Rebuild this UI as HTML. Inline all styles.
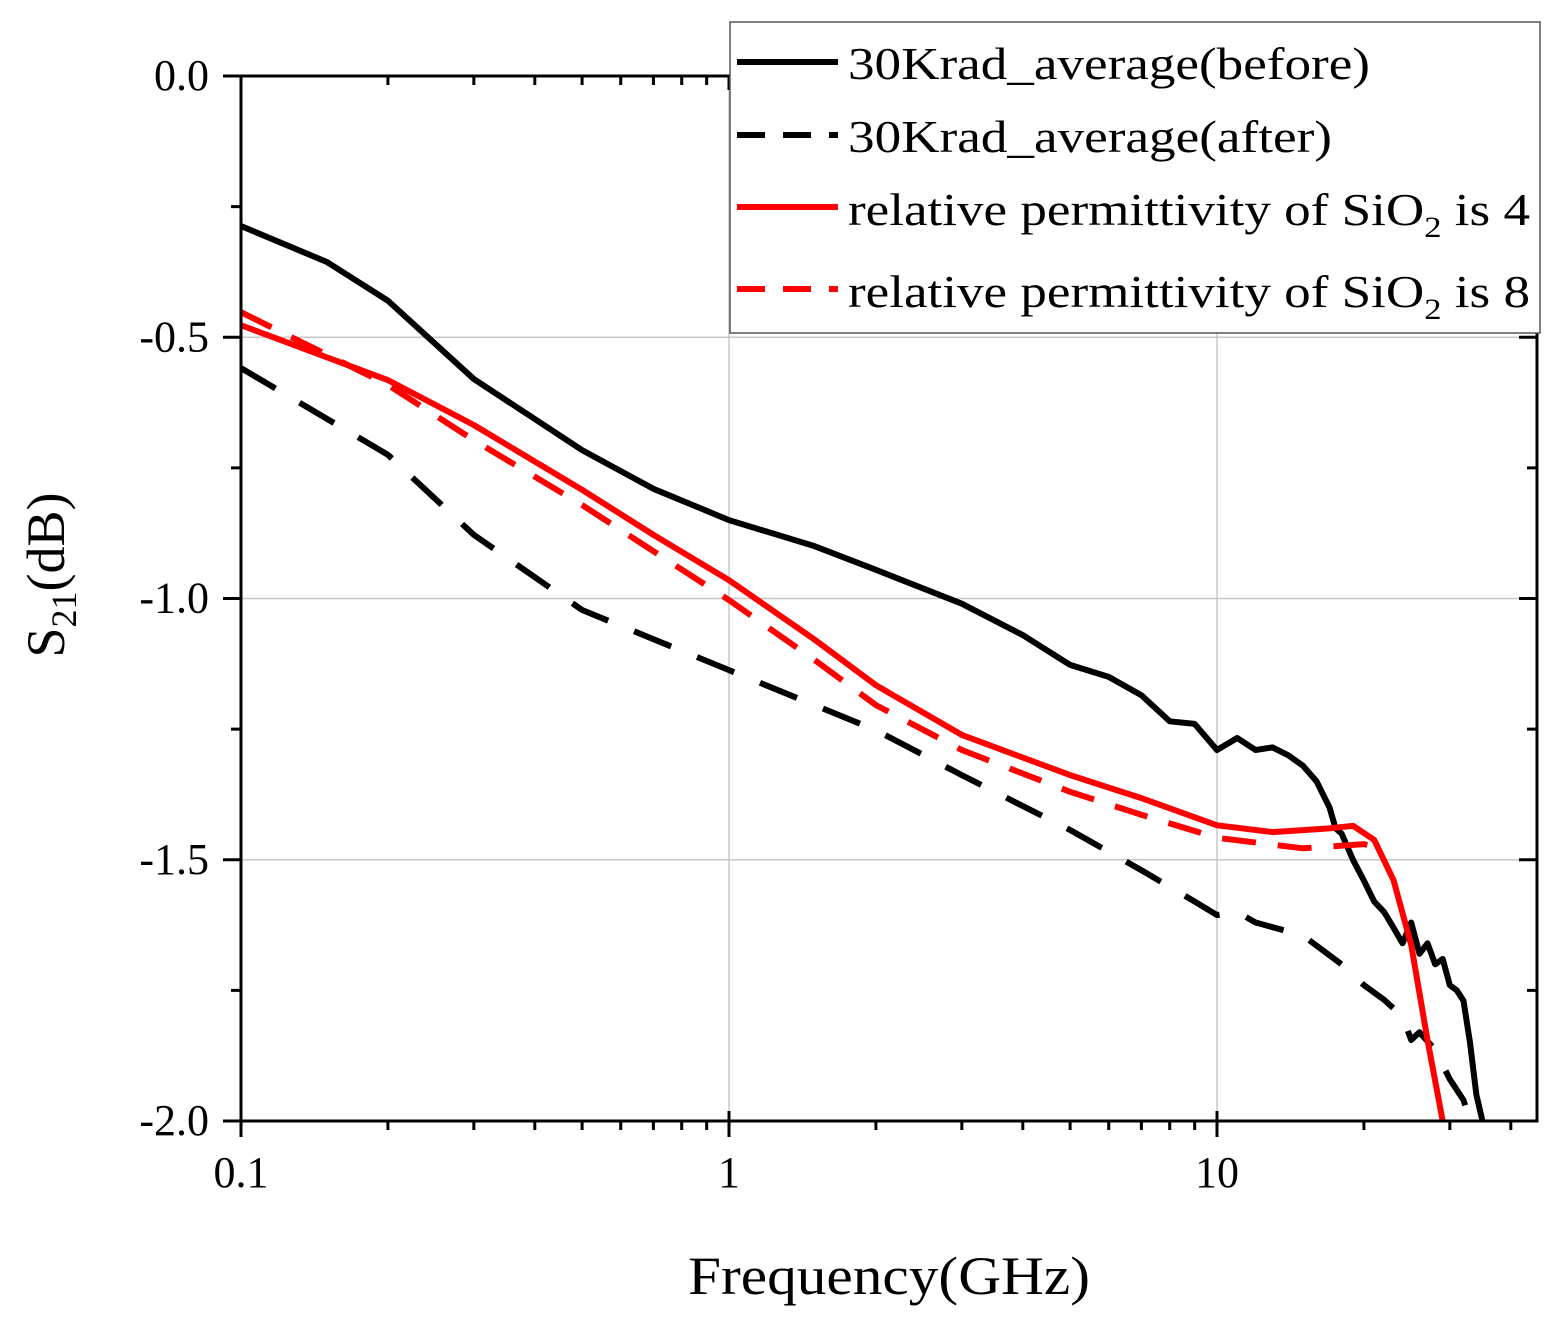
<!DOCTYPE html>
<html><head><meta charset="utf-8"><style>
body{margin:0;background:#fff}
svg{display:block;font-family:"Liberation Serif",serif}
</style></head><body>
<svg id="chart" width="1561" height="1325">
<g id="grid"></g>
<g id="series"></g>
<g id="axes"></g>
<text x="889" y="1294" font-size="54" text-anchor="middle" textLength="402" lengthAdjust="spacingAndGlyphs">Frequency(GHz)</text>
<text transform="translate(64,575) rotate(-90)" font-size="54" text-anchor="middle">S<tspan font-size="36" dy="12">21</tspan><tspan dy="-12">(dB)</tspan></text>
<g>
<rect x="730" y="22" width="810" height="311" fill="#fff" stroke="#555" stroke-width="1.5"/>
<g><line x1="737" y1="62" x2="838" y2="62" stroke="#000" stroke-width="6"/><text x="848" y="79" font-size="46" textLength="522" lengthAdjust="spacingAndGlyphs">30Krad_average(before)</text></g>
<g><line x1="737" y1="135" x2="838" y2="135" stroke="#000" stroke-width="6" stroke-dasharray="28,18"/><text x="848" y="152" font-size="46" textLength="484" lengthAdjust="spacingAndGlyphs">30Krad_average(after)</text></g>
<g><line x1="737" y1="207" x2="838" y2="207" stroke="#f00" stroke-width="6"/><text x="848" y="225" font-size="46" textLength="682" lengthAdjust="spacingAndGlyphs">relative permittivity of SiO<tspan font-size="30" dy="12">2</tspan><tspan dy="-12"> is 4</tspan></text></g>
<g><line x1="737" y1="289" x2="838" y2="289" stroke="#f00" stroke-width="6" stroke-dasharray="28,18"/><text x="848" y="307" font-size="46" textLength="682" lengthAdjust="spacingAndGlyphs">relative permittivity of SiO<tspan font-size="30" dy="12">2</tspan><tspan dy="-12"> is 8</tspan></text></g>
</g>
</svg>
<script>
const freqBefore=[0.1,0.15,0.2,0.3,0.5,0.7,1,1.5,2,3,4,5,6,7,8,9,10,11,12,13,14,15,16,17,17.5,18,19,20,21,22,23,24,25,26,27,28,29,30,31,32,33,34,35];
const valBefore=[-0.287,-0.356,-0.43,-0.58,-0.716,-0.79,-0.85,-0.90,-0.945,-1.01,-1.07,-1.127,-1.15,-1.185,-1.235,-1.24,-1.29,-1.267,-1.29,-1.285,-1.30,-1.32,-1.35,-1.40,-1.44,-1.45,-1.50,-1.54,-1.58,-1.60,-1.63,-1.66,-1.62,-1.68,-1.66,-1.70,-1.69,-1.74,-1.75,-1.77,-1.85,-1.95,-2.0];
const freqAfter=[0.1,0.2,0.3,0.5,1,2,3,5,7,9,10,11,12,15,18,20,22,24,25,26,28,30,32,33];
const valAfter=[-0.559,-0.725,-0.878,-1.022,-1.137,-1.252,-1.338,-1.443,-1.52,-1.58,-1.606,-1.60,-1.62,-1.645,-1.70,-1.74,-1.768,-1.80,-1.845,-1.83,-1.864,-1.92,-1.96,-2.0];
const freqEps4=[0.1,0.2,0.3,0.5,0.7,1,1.5,2,3,5,7,10,13,17,19,21,23,25,27,29];
const valEps4=[-0.477,-0.582,-0.668,-0.792,-0.878,-0.965,-1.079,-1.166,-1.261,-1.338,-1.382,-1.434,-1.447,-1.44,-1.435,-1.462,-1.539,-1.663,-1.845,-2.0];
const freqEps8=[0.1,0.2,0.3,0.5,1,1.5,2,3,5,7,10,15,20,22];
const valEps8=[-0.452,-0.591,-0.697,-0.821,-1.003,-1.118,-1.204,-1.29,-1.37,-1.414,-1.458,-1.478,-1.47,-1.48];
const yTicks=[0,-0.5,-1.0,-1.5,-2.0];
const yTickLabels=["0.0","-0.5","-1.0","-1.5","-2.0"];
const xTicks=[0.1,1,10];
const xTickLabels=["0.1","1","10"];

const L=241,R=1537,T=76,B=1121;
const X=f=>L+(Math.log10(f)+1)*488;
const Y=v=>T-v*(B-T)/2;
const NS="http://www.w3.org/2000/svg";
function mk(tag,attrs,parent){const e=document.createElementNS(NS,tag);for(const k in attrs)e.setAttribute(k,attrs[k]);parent.appendChild(e);return e;}
const grid=document.getElementById('grid'),axes=document.getElementById('axes'),series=document.getElementById('series');
xTicks.forEach(f=>{const g=mk('line',{x1:X(f),x2:X(f),y1:T,y2:B,stroke:'#c8c8c8','stroke-width':1.5},grid);

});
yTicks.forEach(v=>{const g=mk('line',{x1:L,x2:R,y1:Y(v),y2:Y(v),stroke:'#c8c8c8','stroke-width':1.5},grid);

});
function line(fs,vs,color,dash,name){
  const d=fs.map((f,i)=>(i?'L':'M')+X(f).toFixed(1)+','+Y(vs[i]).toFixed(1)).join('');
  const p=mk('path',{d:d,fill:'none',stroke:color,'stroke-width':6,'stroke-linejoin':'round'},series);
  if(dash)p.setAttribute('stroke-dasharray',dash);
  
  
}
line(freqBefore,valBefore,'#000',null,'series-before');
line(freqAfter,valAfter,'#000','40,28','series-after');
line(freqEps4,valEps4,'#f00',null,'series-eps4');
line(freqEps8,valEps8,'#f00','34,22','series-eps8');
const frame=mk('rect',{x:L,y:T,width:R-L,height:B-T,fill:'none',stroke:'#000','stroke-width':3},axes);


for(let dec=0.1;dec<100;dec*=10){for(let m=1;m<10;m++){const f=dec*m;const x=X(f);if(x>R+1)break;
  const major=m===1;
  mk('line',{x1:x,x2:x,y1:B-(major?10:0),y2:B+(major?16:9),stroke:'#000','stroke-width':3},axes);
  mk('line',{x1:x,x2:x,y1:T,y2:T+(major?14:9),stroke:'#000','stroke-width':3},axes);}}
xTicks.forEach((f,i)=>{const t=mk('text',{x:X(f),y:B+66,'font-size':44,'text-anchor':'middle'},axes);t.textContent=xTickLabels[i];

});
for(let v=0;v>=-2.001;v-=0.25){const y=Y(v);const major=Math.abs(v*2-Math.round(v*2))<1e-6;
  mk('line',{x1:L-(major?18:10),x2:L,y1:y,y2:y,stroke:'#000','stroke-width':3},axes);
  mk('line',{x1:R-(major?18:10),x2:R,y1:y,y2:y,stroke:'#000','stroke-width':3},axes);}
yTicks.forEach((v,i)=>{const t=mk('text',{x:L-32,y:Y(v)+14,'font-size':44,'text-anchor':'end'},axes);t.textContent=yTickLabels[i];

});
</script>
</body></html>
